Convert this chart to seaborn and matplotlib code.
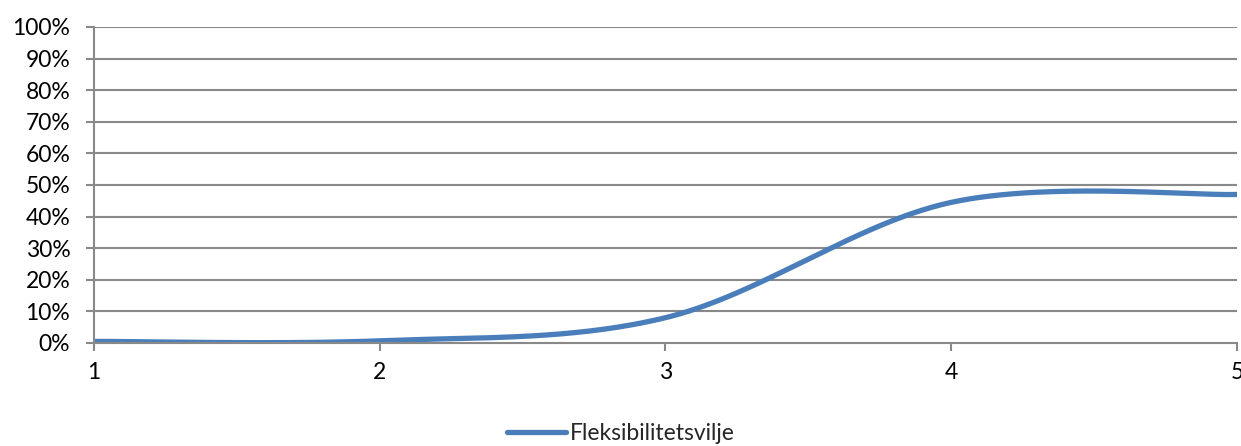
import numpy as np
import pandas as pd
import matplotlib
matplotlib.use("Agg")
import matplotlib.pyplot as plt
import seaborn as sns
from matplotlib.ticker import FuncFormatter

# Share answering per level
levels = [1, 2, 3, 4, 5]
share = [0.005, 0.007, 0.08, 0.445, 0.47]
series_name = "Fleksibilitetsvilje"


def smooth_curve(xs, ys, n=60):
    """Catmull-Rom style Bezier smoothing between consecutive points."""
    xs = np.asarray(xs, float)
    ys = np.asarray(ys, float)
    pts = np.column_stack([xs, ys])
    out = []
    for i in range(len(pts) - 1):
        p0 = pts[max(i - 1, 0)]
        p1 = pts[i]
        p2 = pts[i + 1]
        p3 = pts[min(i + 2, len(pts) - 1)]
        c1 = p1 + (p2 - p0) / 6.0
        c2 = p2 - (p3 - p1) / 6.0
        t = np.linspace(0, 1, n, endpoint=(i == len(pts) - 2))[:, None]
        seg = ((1 - t) ** 3) * p1 + 3 * ((1 - t) ** 2) * t * c1 + 3 * (1 - t) * t ** 2 * c2 + t ** 3 * p2
        out.append(seg)
    out = np.vstack(out)
    return out[:, 0], out[:, 1]


sx, sy = smooth_curve(levels, share)
df = pd.DataFrame({"level": sx, "share": sy, "series": series_name})

sns.set_style("white")
plt.rcParams["font.family"] = ["Lato", "DejaVu Sans"]

fig = plt.figure(figsize=(12.41, 4.46), dpi=100)
ax = fig.add_axes([0.0757, 0.231, 0.9211, 0.7085])

grid_col = "#898989"
for v in np.arange(0.1, 1.01, 0.1):
    ax.axhline(v, color=grid_col, lw=1.5, zorder=0)

sns.lineplot(data=df, x="level", y="share", hue="series", palette=["#4A7EBB"],
             lw=3.8, ax=ax, sort=False, solid_capstyle="round", legend=True)

ax.set_xlim(1, 5)
ax.set_ylim(0, 1)
ax.set_xticks(levels)
ax.set_yticks(np.arange(0, 1.01, 0.1))
ax.yaxis.set_major_formatter(FuncFormatter(lambda v, _: f"{v*100:.0f}%"))
ax.set_xlabel("")
ax.set_ylabel("")

for s in ["top", "right"]:
    ax.spines[s].set_visible(False)
for s in ["left", "bottom"]:
    ax.spines[s].set_color(grid_col)
    ax.spines[s].set_linewidth(1.5)

ax.tick_params(axis="both", which="major", direction="out", length=6, width=1.5,
               color=grid_col, labelsize=16.5, labelcolor="#000000")
ax.tick_params(axis="x", pad=8)
ax.tick_params(axis="y", pad=11)
ax.xaxis.set_ticks_position("bottom")
ax.yaxis.set_ticks_position("left")

handles, labels = ax.get_legend_handles_labels()
ax.legend(handles, labels, loc="center", bbox_to_anchor=(0.5, 0.027),
          bbox_transform=fig.transFigure, frameon=False, fontsize=16.5,
          handlelength=2.6, handletextpad=0.15)

fig.savefig("out.png", dpi=100, facecolor="white")
